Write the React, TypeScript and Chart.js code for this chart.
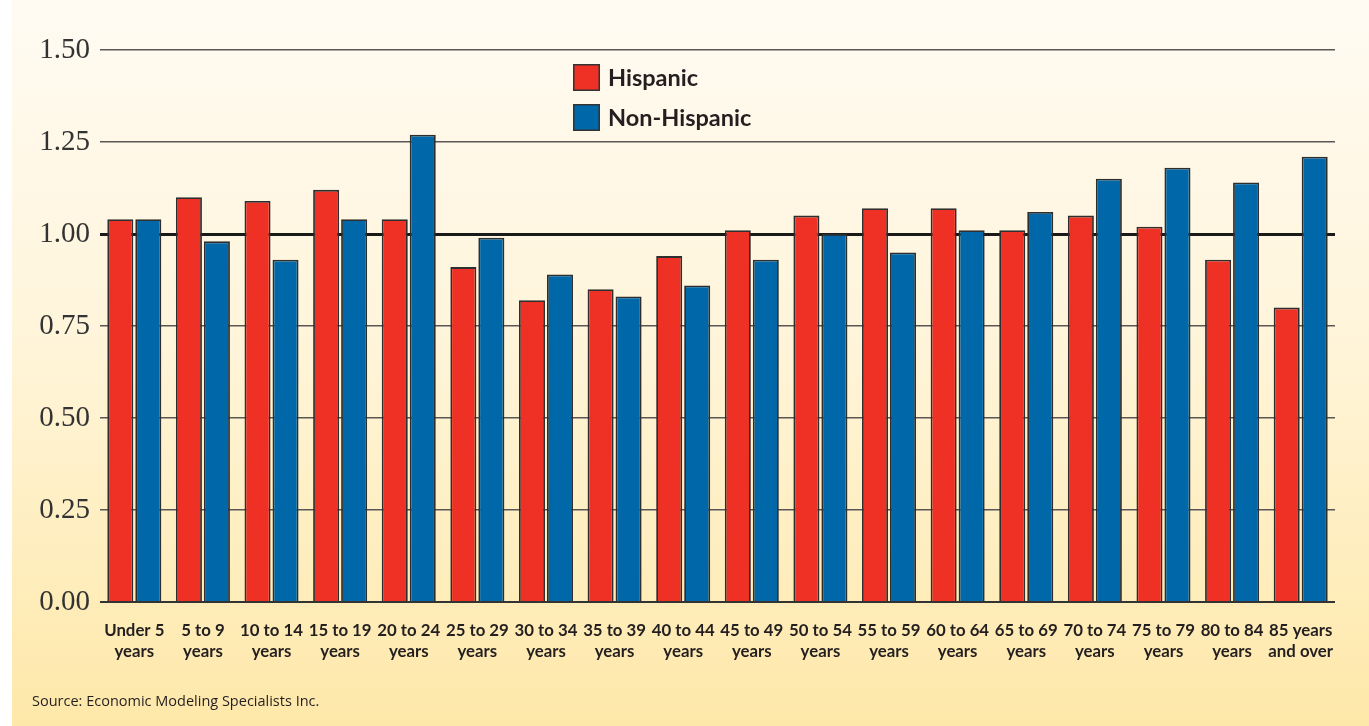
import React, { useEffect, useRef } from "react";
import { Chart, registerables } from "chart.js";

Chart.register(...registerables);

const categories: string[][] = [
  ["Under 5", "years"],
  ["5 to 9", "years"],
  ["10 to 14", "years"],
  ["15 to 19", "years"],
  ["20 to 24", "years"],
  ["25 to 29", "years"],
  ["30 to 34", "years"],
  ["35 to 39", "years"],
  ["40 to 44", "years"],
  ["45 to 49", "years"],
  ["50 to 54", "years"],
  ["55 to 59", "years"],
  ["60 to 64", "years"],
  ["65 to 69", "years"],
  ["70 to 74", "years"],
  ["75 to 79", "years"],
  ["80 to 84", "years"],
  ["85 years", "and over"],
];

const hispanic: number[] = [1.04, 1.1, 1.09, 1.12, 1.04, 0.91, 0.82, 0.85, 0.94, 1.01, 1.05, 1.07, 1.07, 1.01, 1.05, 1.02, 0.93, 0.8];
const nonHispanic: number[] = [1.04, 0.98, 0.93, 1.04, 1.27, 0.99, 0.89, 0.83, 0.86, 0.93, 1.0, 0.95, 1.01, 1.06, 1.15, 1.18, 1.14, 1.21];

const yTicks: number[] = [0, 0.25, 0.5, 0.75, 1.0, 1.25, 1.5];
const seriesNames: string[] = ["Hispanic", "Non-Hispanic"];
const seriesColors: string[] = ["#ee3124", "#0068a9"];
const sourceText = "Source: Economic Modeling Specialists Inc.";

const backgroundPlugin = {
  id: "bgPanel",
  beforeDraw(chart: any) {
    const { ctx, width, height } = chart;
    ctx.save();
    ctx.fillStyle = "#ffffff";
    ctx.fillRect(0, 0, width, height);
    const g = ctx.createLinearGradient(0, 0, 0, height);
    g.addColorStop(0, "#fffbf3");
    g.addColorStop(0.45, "#fff5db");
    g.addColorStop(1, "#fee8a9");
    ctx.fillStyle = g;
    ctx.fillRect(12, 0, width - 12, height);
    ctx.restore();
  },
};

const legendPlugin = {
  id: "customLegend",
  afterDraw(chart: any) {
    const { ctx } = chart;
    ctx.save();
    chart.data.datasets.forEach((ds: any, i: number) => {
      const x = 573;
      const y = 64 + i * 40;
      ctx.fillStyle = ds.backgroundColor;
      ctx.fillRect(x, y, 27, 27);
      ctx.strokeStyle = "#333333";
      ctx.lineWidth = 1.5;
      ctx.strokeRect(x + 0.75, y + 0.75, 25.5, 25.5);
      ctx.fillStyle = "#231f20";
      ctx.font = "bold 23.5px Lato";
      ctx.textBaseline = "middle";
      ctx.textAlign = "left";
      ctx.fillText(ds.label, 608, y + 14);
    });
    ctx.font = "14.5px 'Open Sans'";
    ctx.fillStyle = "#231f20";
    ctx.textBaseline = "middle";
    ctx.fillText(sourceText, 32, 702);
    ctx.restore();
  },
};

export default function App() {
  const canvasRef = useRef<HTMLCanvasElement | null>(null);

  useEffect(() => {
    document.body.style.margin = "0";
    const canvas = canvasRef.current;
    if (!canvas) return;
    const chart = new Chart(canvas, {
      type: "bar",
      data: {
        labels: categories,
        datasets: [
          {
            label: seriesNames[0],
            data: hispanic,
            backgroundColor: seriesColors[0],
            borderColor: "#2e2e2e",
            borderWidth: 1.8,
            categoryPercentage: 0.816,
            barPercentage: 0.93,
          },
          {
            label: seriesNames[1],
            data: nonHispanic,
            backgroundColor: seriesColors[1],
            borderColor: "#2e2e2e",
            borderWidth: 1.8,
            categoryPercentage: 0.816,
            barPercentage: 0.93,
          },
        ],
      },
      options: {
        responsive: false,
        animation: false,
        layout: { padding: { left: 0, top: 50, right: 34, bottom: 0 } },
        plugins: {
          legend: { display: false },
          tooltip: { enabled: false },
          title: { display: false },
        },
        scales: {
          x: {
            grid: { display: false },
            border: { display: false },
            ticks: {
              color: "#231f20",
              font: { family: "Lato", weight: "bold", size: 16.8, lineHeight: 1.25 },
              padding: 10,
              maxRotation: 0,
              autoSkip: false,
            },
            afterFit(scale: any) {
              scale.height = 124;
            },
          },
          y: {
            min: 0,
            max: 1.5,
            afterBuildTicks(scale: any) {
              scale.ticks = yTicks.map((v) => ({ value: v }));
            },
            border: { display: false },
            grid: {
              drawTicks: false,
              color: (c: any) => (c.tick && c.tick.value === 1 ? "#1a1a1a" : c.tick && c.tick.value === 0 ? "#333333" : "#5a5656"),
              lineWidth: (c: any) => (c.tick && c.tick.value === 1 ? 3 : c.tick && c.tick.value === 0 ? 2 : 1.5),
            },
            ticks: {
              color: "#333333",
              font: { family: "'Liberation Serif'", size: 29 },
              padding: 10,
              callback: (v: any) => Number(v).toFixed(2),
            },
            afterFit(scale: any) {
              scale.width = 100;
            },
          },
        },
      },
      plugins: [backgroundPlugin, legendPlugin],
    });
    return () => chart.destroy();
  }, []);

  return (
    <div style={{ width: 1369, height: 726 }}>
      <canvas ref={canvasRef} width={1369} height={726} style={{ display: "block" }} />
    </div>
  );
}
